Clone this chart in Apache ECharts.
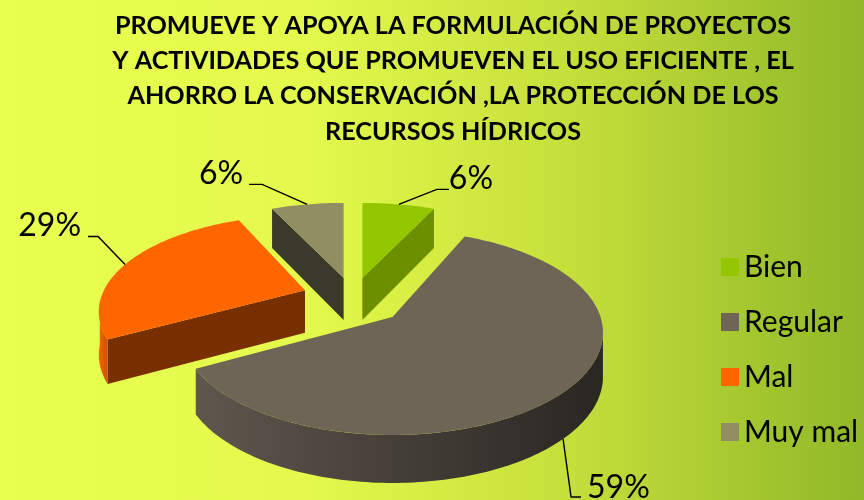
<!DOCTYPE html>
<html>
<head>
<meta charset="utf-8">
<style>html,body{margin:0;padding:0;background:#fff}#c{width:864px;height:500px}</style>
<script src="https://cdn.jsdelivr.net/npm/echarts@6/dist/echarts.min.js"></script>
</head>
<body>
<div id="c"></div>
<script>
// ---- data ----
const categories = ['Bien', 'Regular', 'Mal', 'Muy mal'];
const values = [6, 59, 29, 6];
const titleLines = [
  'PROMUEVE Y APOYA LA FORMULACIÓN DE PROYECTOS',
  'Y ACTIVIDADES QUE PROMUEVEN EL USO EFICIENTE , EL',
  'AHORRO LA CONSERVACIÓN ,LA PROTECCIÓN DE LOS',
  'RECURSOS HÍDRICOS'
];

// ---- styles ----
const topColors = ['#94C600', '#6E6557', '#FF6600', '#908E62'];
const radialColors = ['#6C8F00', '#3F3A33', '#783000', '#3A3A2B'];
const wallStops = [
  ['#6C8F00', '#6C8F00'],
  ['#5F574E', '#2A2622'],
  ['#FF6600', '#C95000'],
  ['#3A3A2B', '#3A3A2B']
];
const drawOrder = [2, 2, 3, 1];
const FONT = 'Lato';

// ---- projection of the tilted, exploded pie ----
const view = { cx: 353, cy: 302, explodeX: 50, explodeY: 24.5, warp: 4.5 };
const lens = [
  { rx: 206, ry: 91.7, persp: 0.2226, lift: 0, skew: 0 },
  { rx: 208, ry: 100, persp: 0.152, lift: 0, skew: -3.7 },
  { rx: 201, ry: 91.7, persp: 0.2226, lift: -5, skew: -3.7 },
  { rx: 206, ry: 91.7, persp: 0.2226, lift: 0, skew: 0 }
];
// leader lines: rim angle override, elbow and label offset from the rim point
const leaders = [
  { dx1: 38, dy1: -15, dx2: 50, dy2: -15, tx: 50, ty: -26, align: 'left', onWall: false },
  { angle: 139.5, dx1: 8, dy1: 58, dx2: 18, dy2: 58, tx: 24, ty: 49, align: 'left', onWall: true },
  { dx1: -27, dy1: -28, dx2: -37, dy2: -28, tx: -44, ty: -39, align: 'right', onWall: false },
  { dx1: -45, dy1: -20, dx2: -58, dy2: -20, tx: -64, ty: -31, align: 'right', onWall: false }
];

const total = values.reduce((a, b) => a + b, 0);
const rad = d => d * Math.PI / 180;
const spans = [];
values.reduce((acc, v, i) => {
  const end = acc + v / total * 360;
  spans[i] = [acc, end];
  return end;
}, 0);

function apexOf(i) {
  const mid = rad((spans[i][0] + spans[i][1]) / 2);
  return [view.cx + view.explodeX * Math.sin(mid), view.cy - view.explodeY * Math.cos(mid) + lens[i].lift];
}
function rim(i, deg) {
  const a = apexOf(i), L = lens[i];
  const t = rad(deg + view.warp * Math.sin(rad(2 * deg)) + L.skew * Math.sin(rad(deg)));
  const x = Math.sin(t), y = -Math.cos(t), w = 1 - L.persp * y;
  return [a[0] + L.rx * x / w, a[1] + L.ry * y / w];
}
const depthAt = y => 42 + (y - 277) * 6 / 158;
const drop = p => [p[0], p[1] + depthAt(p[1])];
function arc(i, from, to) {
  const pts = [];
  const n = Math.max(2, Math.ceil(Math.abs(to - from)));
  for (let k = 0; k <= n; k++) pts.push(rim(i, from + (to - from) * k / n));
  return pts;
}
function poly(points, fill) {
  return { type: 'polygon', shape: { points }, style: { fill, stroke: null }, silent: true };
}

function renderSlice(i) {
  return function () {
    const [s, e] = spans[i];
    const a = apexOf(i);
    const children = [];
    // radial walls that face the viewer
    const ps = rim(i, s), pe = rim(i, e);
    if (ps[0] < a[0] - 1) children.push(poly([a, ps, drop(ps), drop(a)], radialColors[i]));
    if (pe[0] > a[0] + 1) children.push(poly([a, pe, drop(pe), drop(a)], radialColors[i]));
    // curved outer wall, only the front half of the rim shows
    const vs = Math.max(s, 103), ve = Math.min(e, 257);
    if (ve > vs) {
      const edge = arc(i, vs, ve);
      children.push({
        type: 'polygon',
        shape: { points: edge.concat(edge.slice().reverse().map(drop)) },
        style: {
          fill: new echarts.graphic.LinearGradient(1, 0, 0, 0, [
            { offset: 0, color: wallStops[i][1] },
            { offset: 1, color: wallStops[i][0] }
          ])
        },
        silent: true
      });
    }
    // top face
    children.push(poly([a].concat(arc(i, s, e)), topColors[i]));
    // leader and label
    const l = leaders[i];
    let p = rim(i, l.angle === undefined ? (s + e) / 2 : l.angle);
    if (l.onWall) p = drop(p);
    children.push({
      type: 'polyline',
      shape: { points: [p, [p[0] + l.dx1, p[1] + l.dy1], [p[0] + l.dx2, p[1] + l.dy2]] },
      style: { stroke: '#000', lineWidth: 1.4, fill: null },
      silent: true
    });
    children.push({
      type: 'text',
      x: p[0] + l.tx, y: p[1] + l.ty,
      style: {
        text: values[i] + '%',
        fontFamily: FONT, fontSize: 32, fill: '#000',
        align: l.align, verticalAlign: 'middle'
      },
      silent: true
    });
    return { type: 'group', children };
  };
}

const chart = echarts.init(document.getElementById('c'), null, { renderer: 'canvas' });
chart.setOption({
  animation: false,
  backgroundColor: new echarts.graphic.LinearGradient(0, 0, 1, 0, [
    { offset: 0, color: '#E9FF50' },
    { offset: 0.35, color: '#E4F94B' },
    { offset: 0.65, color: '#C6E03B' },
    { offset: 1, color: '#90B828' }
  ]),
  title: {
    text: titleLines.join('\n'),
    left: 448, top: 3, textAlign: 'center',
    textStyle: { fontFamily: FONT, fontWeight: 'bold', fontSize: 25.2, lineHeight: 35.3, color: '#000' }
  },
  legend: {
    data: categories,
    orient: 'vertical',
    left: 716, top: 247,
    icon: 'rect',
    itemWidth: 18, itemHeight: 18, itemGap: 25,
    textStyle: { fontFamily: FONT, fontSize: 30, color: '#000', lineHeight: 30 },
    selectedMode: false
  },
  series: categories.map((name, i) => ({
    type: 'custom',
    name,
    coordinateSystem: 'none',
    z: drawOrder[i],
    silent: true,
    itemStyle: { color: topColors[i] },
    data: [[values[i]]],
    renderItem: renderSlice(i)
  }))
});
</script>
</body>
</html>
